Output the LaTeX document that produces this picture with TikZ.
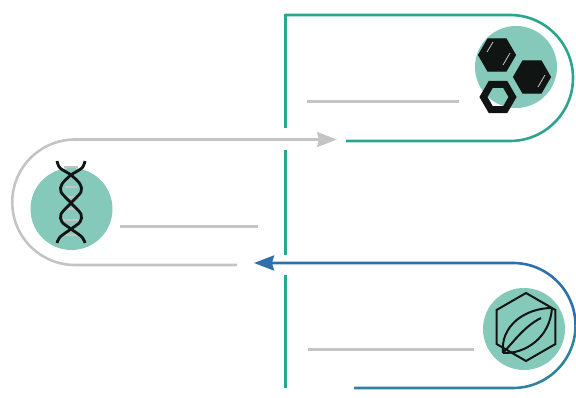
\documentclass[tikz,border=0pt]{standalone}
\usepackage{tikz}
\usetikzlibrary{arrows.meta,shapes.geometric}
\definecolor{tealline}{HTML}{2BA58F}
\definecolor{tealdisc}{HTML}{84C9BA}
\definecolor{greyline}{HTML}{C4C4C4}
\definecolor{blueline}{HTML}{2F70AC}
\definecolor{bluedark}{HTML}{2C84A0}
\definecolor{ink}{HTML}{101412}

\begin{document}
\begin{tikzpicture}[x=1pt,y=1pt,
    disc/.style={circle, fill=tealdisc, minimum size=82pt, inner sep=0pt},
    hexfull/.style={regular polygon, regular polygon sides=6, fill=ink, draw=ink, line width=1pt, minimum size=37pt, inner sep=0pt},
    hexring/.style={regular polygon, regular polygon sides=6, draw=ink, line width=7pt, minimum size=29pt, inner sep=0pt},
    hexleaf/.style={regular polygon, regular polygon sides=6, shape border rotate=30, draw=ink, line width=2pt, minimum size=68pt, inner sep=0pt},
    rule/.style={draw=greyline, line width=3pt},
    tealway/.style={draw=tealline, line width=2.6pt},
    tealbar/.style={draw=tealline, line width=3pt},
    greyway/.style={draw=greyline, line width=2.6pt},
    blueway/.style={draw=blueline, line width=2.6pt},
    strand/.style={draw=ink, line width=2.8pt},
    >={Stealth[length=20pt,width=15pt,inset=2pt]}]
    \useasboundingbox (0,0) rectangle (576,398);
    % Discs
    \node[disc] (chem) at (516,331) {};
    \node[disc] (dna) at (71.5,189) {};
    \node[disc] (leaf) at (524,69) {};
    % Hexagons
    \node[hexfull] (hexA) at (497,343) {};
    \node[hexfull] (hexB) at (532,321) {};
    \node[hexring] (hexC) at (498,301) {};
    \draw[greyline, line width=.8pt] (503,333) -- (510,345);
    \draw[greyline, line width=.8pt] (538,311) -- (545,323);
    \draw[greyline, line width=.8pt] (487,346) -- (493,356);
    % Helix
    \draw[greyline, line width=1.5pt] (64,231) -- (78,231) (65,211) -- (77,211) (62,201) -- (80,201) (63,189) -- (79,189) (63,178) -- (79,178) (64,163) -- (78,163);
    \draw[strand] plot[smooth] coordinates {(57,237) (60,230) (71,223) (80,214) (81,206) (71,195) (61,184) (62,176) (71,169) (82,161) (85,155)};
    \draw[strand] plot[smooth] coordinates {(85,237) (82,230) (71,223) (62,214) (61,206) (71,195) (81,184) (80,176) (71,169) (60,161) (57,155)};
    % Leaf
    \node[hexleaf] (hexD) at (526,71) {};
    \coordinate (leafA) at (503,45);
    \coordinate (leafB) at (552,90);
    \draw[ink, line width=2pt] (leafA) .. controls (500,72) and (525,90) .. (leafB);
    \draw[ink, line width=2pt] (leafA) .. controls (525,44) and (550,60) .. (leafB);
    \draw[ink, line width=2pt] (leafA) .. controls (515,58) and (525,72) .. (541,80);
    % Rules
    \coordinate (ruleA) at (307,296);
    \coordinate (ruleB) at (459,296);
    \coordinate (ruleC) at (120,171);
    \coordinate (ruleD) at (258,171);
    \coordinate (ruleE) at (308,48);
    \coordinate (ruleF) at (474,48);
    \draw[rule] (ruleA) -- (ruleB);
    \draw[rule] (ruleC) -- (ruleD);
    \draw[rule] (ruleE) -- (ruleF);
    % Teal way
    \coordinate (tealA) at (346,257);
    \coordinate (tealTop) at (285,383);
    \coordinate (tealB) at (285,270);
    \coordinate (tealC) at (285,248);
    \coordinate (tealD) at (285,143);
    \coordinate (tealE) at (285,123);
    \coordinate (tealF) at (285,10);
    \draw[tealway] (tealA) -- (510,257) arc[start angle=-90, end angle=90, radius=63pt] -- (tealTop);
    \draw[tealbar] ([yshift=1.3pt]tealTop) -- (tealB);
    \draw[tealbar] (tealC) -- (tealD);
    \draw[tealbar] (tealE) -- (tealF);
    % Grey way
    \coordinate (greyA) at (237,133);
    \coordinate (greyB) at (337,258.5);
    \draw[greyway, ->] (greyA) -- (75,133) arc[start angle=270, end angle=90, radius=62.75pt] -- (greyB);
    % Blue way
    \coordinate (blueA) at (354,10);
    \coordinate (blueB) at (254,135);
    \draw[draw=bluedark, line width=2.6pt] (blueA) -- (513,10) arc[start angle=-90, end angle=0, radius=62.5pt];
    \draw[blueway, ->] (575.5,72.5) arc[start angle=0, end angle=90, radius=62.5pt] -- (blueB);
\end{tikzpicture}
\end{document}
